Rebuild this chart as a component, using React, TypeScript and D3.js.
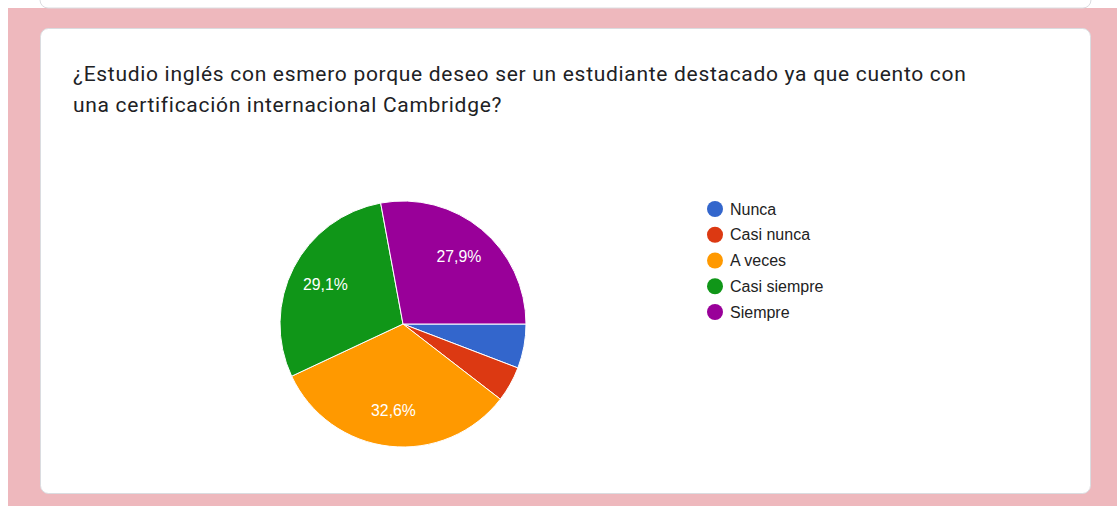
import * as d3 from 'd3';
import { useEffect, useRef } from 'react';

const categories = ['Nunca', 'Casi nunca', 'A veces', 'Casi siempre', 'Siempre'];
const counts = [5, 4, 28, 25, 24];
const colors = ['#3366cc', '#dc3912', '#ff9900', '#109618', '#990099'];
const titleLines = [
  '¿Estudio inglés con esmero porque deseo ser un estudiante destacado ya que cuento con',
  'una certificación internacional Cambridge?',
];

export default function App() {
  const ref = useRef<SVGSVGElement>(null);

  useEffect(() => {
    const w = 1117, h = 506;
    const svg = d3.select(ref.current);
    svg.selectAll('*').remove();

    svg.append('rect').attr('width', w).attr('height', h).attr('fill', '#fff');
    svg.append('rect').attr('x', 8).attr('y', 8).attr('width', w - 8).attr('height', h - 8).attr('fill', '#eeb8bd');

    // previous card, only its bottom edge visible
    svg.append('rect')
      .attr('x', 40).attr('y', -20).attr('width', 1051).attr('height', 28)
      .attr('rx', 8).attr('fill', '#fff').attr('stroke', '#dadce0').attr('stroke-width', 1);

    svg.append('rect')
      .attr('x', 40.5).attr('y', 28.5).attr('width', 1050).attr('height', 465)
      .attr('rx', 8).attr('fill', '#fff').attr('stroke', '#dadce0').attr('stroke-width', 1);

    svg.append('g')
      .selectAll('text')
      .data(titleLines)
      .join('text')
      .attr('x', 73)
      .attr('y', (_, i) => 81 + i * 31)
      .attr('font-family', 'Roboto, Arial, sans-serif')
      .attr('font-size', 21)
      .attr('letter-spacing', 0.7)
      .attr('fill', '#202124')
      .text(d => d);

    const total = d3.sum(counts);
    const r = 123;
    const cx = 403, cy = 324;
    const pie = d3.pie<number>()
      .sort(null)
      .startAngle(Math.PI / 2)
      .endAngle(Math.PI / 2 + 2 * Math.PI);
    const arcs = pie(counts);
    const arc = d3.arc<d3.PieArcDatum<number>>().innerRadius(0).outerRadius(r);
    const labelArc = d3.arc<d3.PieArcDatum<number>>().innerRadius(r * 0.71).outerRadius(r * 0.71);

    const g = svg.append('g').attr('transform', `translate(${cx},${cy})`);
    g.selectAll('path')
      .data(arcs)
      .join('path')
      .attr('d', arc)
      .attr('fill', (_, i) => colors[i])
      .attr('stroke', '#fff')
      .attr('stroke-width', 1);

    g.selectAll('text')
      .data(arcs.filter(d => d.value / total > 0.1))
      .join('text')
      .attr('transform', d => `translate(${labelArc.centroid(d)})`)
      .attr('text-anchor', 'middle')
      .attr('dy', '0.35em')
      .attr('font-family', 'Arial, "Liberation Sans", sans-serif')
      .attr('font-size', 15.8)
      .attr('fill', '#fff')
      .text(d => (d3.format('.1f')(d.value / total * 100)).replace('.', ',') + '%');

    const y = d3.scalePoint<string>().domain(categories).range([209, 312]);
    const legend = svg.append('g')
      .selectAll('g')
      .data(categories)
      .join('g')
      .attr('transform', d => `translate(715,${y(d)})`);
    legend.append('circle').attr('r', 8).attr('fill', (_, i) => colors[i]);
    legend.append('text')
      .attr('x', 15)
      .attr('dy', '0.35em')
      .attr('font-family', 'Arial, "Liberation Sans", sans-serif')
      .attr('font-size', 16)
      .attr('fill', '#222')
      .text(d => d);
  }, []);

  return (
    <svg ref={ref} width={1117} height={506}
      style={{ position: 'absolute', left: 0, top: 0, display: 'block' }} />
  );
}
